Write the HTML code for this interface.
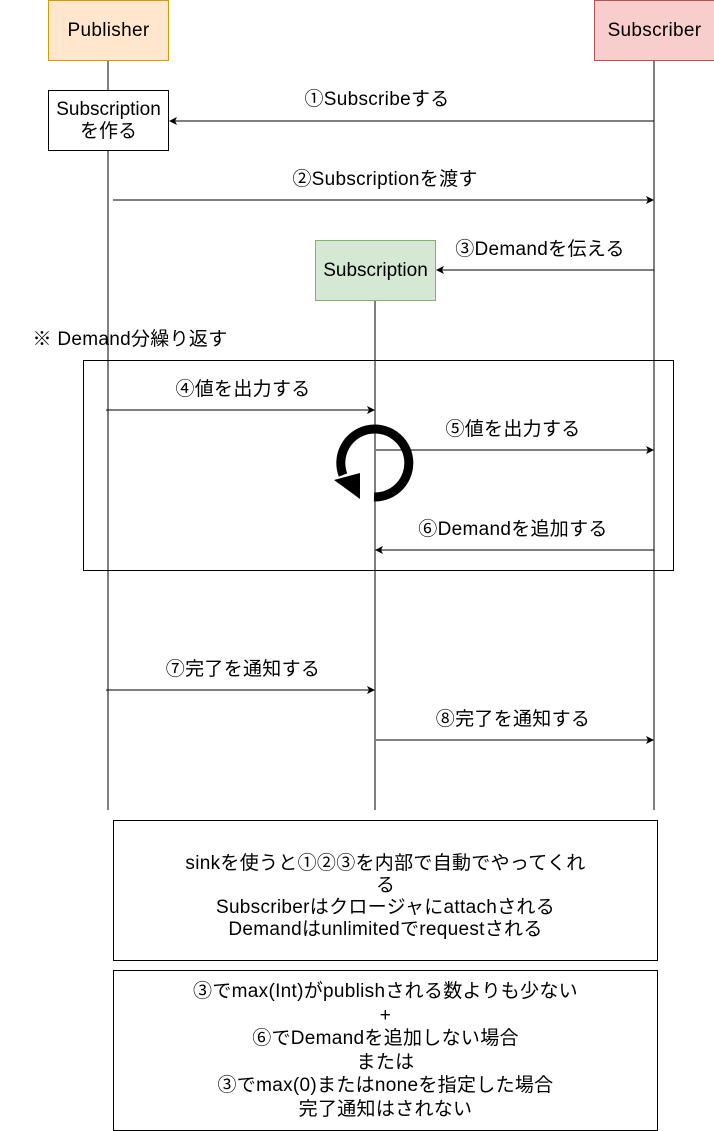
<!DOCTYPE html>
<html><head><meta charset="utf-8"><style>
body{margin:0;width:714px;height:1131px;position:relative;background:#fff;font-family:"Liberation Sans","Noto Sans CJK JP",sans-serif;font-size:19px;letter-spacing:0.3px;color:#000;overflow:hidden}
.b{position:absolute;box-sizing:border-box;display:flex;align-items:center;justify-content:center;text-align:center;line-height:22px}
.t{position:absolute;white-space:nowrap;transform:translateX(-50%);line-height:20px}
</style></head><body>
<svg width="714" height="1131" style="position:absolute;left:0;top:0">
<defs><marker id="a" markerWidth="8" markerHeight="8" refX="7" refY="4" orient="auto" markerUnits="userSpaceOnUse"><path d="M0,0 L8,4 L0,8 L2,4z" fill="#000"/></marker></defs>
<g stroke="#000" stroke-width="1" fill="none">
<line x1="108" y1="60" x2="108" y2="810"/>
<line x1="654" y1="60" x2="654" y2="810"/>
<line x1="375" y1="300" x2="375" y2="810"/>
<rect x="83.5" y="360.5" width="590" height="210"/>
<line x1="654" y1="121" x2="170" y2="121" marker-end="url(#a)"/>
<line x1="113" y1="200" x2="653" y2="200" marker-end="url(#a)"/>
<line x1="654" y1="270" x2="437" y2="270" marker-end="url(#a)"/>
<line x1="106" y1="410" x2="374" y2="410" marker-end="url(#a)"/>
<line x1="376" y1="450" x2="653" y2="450" marker-end="url(#a)"/>
<line x1="654" y1="550" x2="376" y2="550" marker-end="url(#a)"/>
<line x1="106" y1="690" x2="374" y2="690" marker-end="url(#a)"/>
<line x1="376" y1="740" x2="653" y2="740" marker-end="url(#a)"/>
</g>
<path d="M374,497 A34,34 0 1 0 343,475" stroke="#000" stroke-width="9" fill="none"/>
<path d="M334,480 L360,473 L360,499z" fill="#000"/>
</svg>
<div class="b" style="left:48px;top:0;width:121px;height:61px;background:#ffe6cc;border:1px solid #d79b00">Publisher</div>
<div class="b" style="left:594px;top:0;width:121px;height:61px;background:#f8cecc;border:1px solid #b85450">Subscriber</div>
<div class="b" style="left:48px;top:90px;width:121px;height:61px;background:#fff;border:1px solid #000;letter-spacing:0">Subscription<br>を作る</div>
<div class="b" style="left:315px;top:240px;width:121px;height:61px;background:#d5e8d4;border:1px solid #82b366;letter-spacing:0">Subscription</div>
<div class="t" style="left:377px;top:90px">①Subscribeする</div>
<div class="t" style="left:385px;top:170px">②Subscriptionを渡す</div>
<div class="t" style="left:540px;top:240px">③Demandを伝える</div>
<div class="t" style="left:130px;top:330px">※ Demand分繰り返す</div>
<div class="t" style="left:243px;top:380px">④値を出力する</div>
<div class="t" style="left:513px;top:420px">⑤値を出力する</div>
<div class="t" style="left:513px;top:520px">⑥Demandを追加する</div>
<div class="t" style="left:243px;top:660px">⑦完了を通知する</div>
<div class="t" style="left:513px;top:710px">⑧完了を通知する</div>
<div class="b" style="left:113px;top:820px;width:545px;height:141px;border:1px solid #000;padding-top:12px">sinkを使うと①②③を内部で自動でやってくれ<br>る<br>Subscriberはクロージャにattachされる<br>Demandはunlimitedでrequestされる</div>
<div class="b" style="left:113px;top:970px;width:545px;height:161px;border:1px solid #000;line-height:23.5px">③でmax(Int)がpublishされる数よりも少ない<br>+<br>⑥でDemandを追加しない場合<br>または<br>③でmax(0)またはnoneを指定した場合<br>完了通知はされない</div>
</body></html>
